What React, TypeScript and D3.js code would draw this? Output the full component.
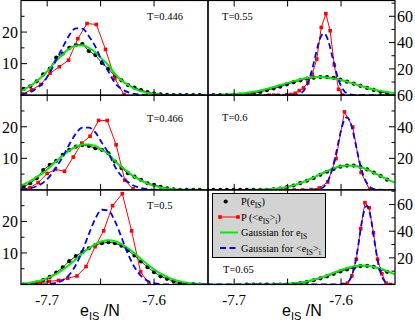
import React, { useRef, useEffect } from "react";
import * as d3 from "d3";

const WIDTH = 415;
const HEIGHT = 322;
const COLS = [
  [21, 208],
  [208, 395],
];
const ROWS = [0.5, 95.2, 189.9, 284.5];
const X_DOMAIN = [-7.7245, -7.5495];
const X_TICKS = [-7.7, -7.65, -7.6];
const X_LABELS = [-7.7, -7.6];

const GREEN = "#00ee00";
const BLUE = "#0000ff";
const RED = "#ff0000";
const SERIF = "'Liberation Serif', 'Times New Roman', serif";
const SANS = "'Liberation Sans', Arial, sans-serif";

// bin centres of P(e_IS), left and right column
const LEFT_GRID = [
  -7.722, -7.7159, -7.7098, -7.7037, -7.6976, -7.6915, -7.6854, -7.6793, -7.6732, -7.6671,
  -7.661, -7.6549, -7.6488, -7.6427, -7.6366, -7.6305, -7.6244, -7.6183, -7.6122, -7.6061,
  -7.6, -7.5939, -7.5878, -7.5817, -7.5756, -7.5695, -7.5634, -7.5573,
];
const RIGHT_GRID = [
  -7.7256, -7.7194, -7.7131, -7.7069, -7.7006, -7.6944, -7.6881, -7.6819, -7.6756, -7.6694,
  -7.6631, -7.6569, -7.6506, -7.6444, -7.6381, -7.6319, -7.6256, -7.6194, -7.6131, -7.6069,
  -7.6006, -7.5944, -7.5881, -7.5819, -7.5756, -7.5694, -7.5631, -7.5569,
];
const LEFT_FIT_X = [-7.7241, ...LEFT_GRID, -7.5488];
const RIGHT_FIT_X = [...RIGHT_GRID, -7.55];

// T = 0.446
const T446_P = [2.0, 2.8, 4.4, 6.6, 8.4, 11.9, 13.2, 15.0, 15.9, 16.2, 14.0, 12.7, 10.2, 8.4, 6.0, 4.7, 3.2, 2.4, 1.6, 1.0, 0.5, 0.3, 0.1, 0, 0, 0, 0, 0];
const T446_FIT = [1.4, 1.7, 2.9, 4.5, 6.2, 8.5, 10.9, 12.9, 14.7, 15.7, 15.8, 15.0, 13.6, 11.5, 9.5, 6.8, 4.7, 3.3, 2.0, 1.3, 0.72, 0.38, 0.18, 0.08, 0.03, 0.01, 0, 0, 0, 0];
const T446_FIT_I = [0.26, 0.36, 1.0, 2.2, 4.0, 7.1, 11.2, 15.2, 19.0, 21.2, 21.1, 18.7, 15.4, 10.9, 7.5, 3.9, 2.0, 0.95, 0.39, 0.16, 0.06, 0.02, 0, 0, 0, 0, 0, 0, 0, 0];
const T446_RED_X = [-7.7232, -7.7146, -7.7059, -7.6973, -7.6886, -7.68, -7.6713, -7.6627, -7.654, -7.6454, -7.6367, -7.6281];
const T446_RED = [0.4, 1.7, 3.4, 7.0, 9.0, 11.1, 17.9, 22.7, 22.4, 14.5, 5.3, 0.2];

// T = 0.466
const T466_P = [1.0, 2.1, 3.7, 6.3, 7.9, 9.2, 11.1, 12.7, 13.7, 14.2, 13.9, 13.2, 12.7, 11.6, 9.0, 6.9, 5.3, 4.2, 3.2, 2.1, 1.6, 1.0, 0.5, 0.2, 0, 0, 0, 0];
const T466_FIT = [1.5, 1.75, 2.8, 4.1, 5.4, 7.2, 9.1, 10.8, 12.5, 13.7, 14.4, 14.4, 13.9, 12.7, 11.4, 9.2, 7.3, 5.7, 4.1, 3.0, 2.0, 1.27, 0.76, 0.44, 0.24, 0.13, 0.06, 0.03, 0.01, 0];
const T466_FIT_I = [0.13, 0.19, 0.53, 1.19, 2.3, 4.3, 7.2, 10.5, 14.4, 17.8, 19.7, 19.7, 18.2, 14.9, 11.7, 7.4, 4.4, 2.5, 1.25, 0.62, 0.25, 0.09, 0.03, 0, 0, 0, 0, 0, 0, 0];
const T466_RED_X = [-7.7241, -7.7161, -7.7084, -7.7, -7.6922, -7.6838, -7.6756, -7.6676, -7.6599, -7.6519, -7.6438, -7.6355, -7.6274, -7.6196];
const T466_RED = [0.1, 0.7, 2.3, 5.2, 6.5, 5.9, 10.4, 14.8, 17.0, 22.0, 22.0, 14.3, 3.1, 0.3];

// T = 0.5
const T500_P = [0, 0.2, 0.6, 1.4, 2.4, 3.8, 5.4, 7.4, 9.0, 10.3, 11.5, 12.5, 13.1, 13.4, 13.1, 12.3, 10.9, 9.2, 7.3, 5.5, 3.9, 2.6, 1.8, 1.0, 0.5, 0.2, 0.1, 0];
const T500_FIT = [0.27, 0.33, 0.58, 0.96, 1.52, 2.32, 3.39, 4.72, 6.29, 8.03, 9.8, 11.4, 12.8, 13.7, 14.0, 13.7, 12.8, 11.5, 9.9, 8.1, 6.4, 4.8, 3.45, 2.4, 1.57, 0.99, 0.59, 0.34, 0.19, 0.08];
const T500_FIT_I = [0, 0, 0, 0, 0.05, 0.17, 0.52, 1.36, 3.1, 6.2, 10.6, 16.0, 20.9, 23.7, 23.4, 20.1, 15.0, 9.7, 5.5, 2.7, 1.15, 0.43, 0.14, 0, 0, 0, 0, 0, 0, 0];
const T500_RED_X = [-7.7152, -7.7066, -7.6979, -7.6894, -7.6807, -7.6721, -7.6636, -7.6552, -7.6472, -7.6388, -7.6297, -7.621, -7.6126, -7.6046];
const T500_RED = [0.2, 0.5, 1.0, 1.3, 2.0, 2.7, 5.7, 12.0, 17.0, 25.0, 28.8, 17.0, 4.0, 0.1];

// T = 0.55
const T550_P = [0, 0, 0, 0, 0.2, 0.5, 0.9, 1.4, 2.5, 3.8, 5.1, 6.5, 8.3, 9.9, 11.3, 12.6, 13.3, 13.8, 13.8, 13.2, 11.9, 10.3, 8.8, 7.1, 5.5, 4.0, 2.6, 1.4];
const T550_FIT = [0.11, 0.19, 0.31, 0.52, 0.82, 1.24, 1.84, 2.62, 3.6, 4.8, 6.2, 7.7, 9.2, 10.7, 12.0, 13.0, 13.6, 13.8, 13.5, 12.7, 11.6, 10.3, 8.7, 7.2, 5.7, 4.4, 3.3, 2.4, 1.6];
const T550_FIT_I_X = [-7.7256, -7.6485, -7.6438, -7.6391, -7.6344, -7.6306, -7.6269, -7.6241, -7.6213, -7.6185, -7.6161, -7.6138, -7.611, -7.6082, -7.6053, -7.6016, -7.5978, -7.5932, -7.5885, -7.5829, -7.55];
const T550_FIT_I = [0, 0.02, 0.17, 0.98, 4.0, 10.0, 20.0, 29.5, 38.7, 45.1, 47, 45.1, 38.7, 29.5, 20.0, 10.0, 4.0, 0.98, 0.17, 0.02, 0];
const T550_RED_X = [-7.6831, -7.6672, -7.663, -7.6588, -7.6508, -7.6469, -7.6428, -7.6391, -7.6351, -7.6311, -7.6269, -7.6227, -7.6185, -7.6142, -7.6102, -7.6063, -7.6023, -7.5983];
const T550_RED = [0, 0, 0, 0, 0.3, 0.5, 1.5, 3.5, 5.5, 9.4, 16, 27.5, 51.5, 62, 49, 23, 4.5, 0];

// T = 0.6
const T600_P = [0, 0, 0, 0, 0, 0, 0, 0, 0, 0, 0.3, 0.9, 1.8, 2.8, 4.3, 5.8, 7.6, 9.6, 11.5, 13.3, 14.7, 15.4, 15.4, 14.6, 13.0, 11.0, 8.9, 6.5];
const T600_FIT = [0, 0, 0, 0, 0, 0, 0, 0.11, 0.21, 0.39, 0.71, 1.19, 1.92, 2.96, 4.31, 6.0, 7.97, 10.0, 12.0, 13.8, 14.96, 15.5, 15.25, 14.3, 12.8, 10.8, 8.8, 6.7, 4.8];
const T600_FIT_I_X = [-7.7256, -7.625, -7.6203, -7.6157, -7.6119, -7.6082, -7.6053, -7.6025, -7.5997, -7.5969, -7.5946, -7.5922, -7.5894, -7.5866, -7.5838, -7.581, -7.5772, -7.5735, -7.5688, -7.5641, -7.55];
const T600_FIT_I = [0, 0.09, 0.53, 2.3, 6.1, 13.3, 21.1, 30.0, 38.5, 44.3, 46, 44.3, 38.5, 30.0, 21.1, 13.3, 6.1, 2.3, 0.53, 0.09, 0];
const T600_RED_X = [-7.6595, -7.6516, -7.6438, -7.636, -7.6281, -7.6203, -7.6125, -7.6047, -7.5968, -7.589, -7.5812, -7.5734];
const T600_RED = [0, 0, 0, 0, 0.2, 1.2, 5.0, 19.8, 49.4, 39.8, 11, 0.3];

// T = 0.65
const T650_P = [null, null, null, null, null, null, 0, 0, 0, 0, 0, 0, 0, 0.3, 1.0, 2.0, 3.2, 4.6, 6.1, 8.0, 9.8, 11.3, 12.4, 13.8, 14.0, 13.3, 11.2, 9.5];
const T650_FIT = [0, 0, 0, 0, 0, 0, 0, 0, 0.03, 0.06, 0.13, 0.26, 0.49, 0.87, 1.46, 2.3, 3.5, 5.0, 6.8, 8.8, 10.7, 12.4, 13.7, 14.3, 14.1, 13.2, 11.8, 10.0, 7.8];
const T650_FIT_I_X = [-7.7256, -7.6016, -7.5969, -7.5922, -7.5894, -7.5866, -7.5838, -7.581, -7.5786, -7.576, -7.5735, -7.5711, -7.5683, -7.5655, -7.5627, -7.5594, -7.5547, -7.55];
const T650_FIT_I = [0, 0.04, 0.43, 3.0, 7.8, 16.6, 29.8, 44.7, 54.6, 59, 54.9, 45.1, 30.3, 17.0, 8.0, 2.6, 0.36, 0.03];
const T650_RED_X = [-7.5983, -7.5941, -7.5899, -7.5857, -7.5816, -7.5776, -7.5736, -7.5697, -7.5658, -7.5618, -7.5578, -7.5538];
const T650_RED = [0, 1.0, 6.5, 19, 42, 61.4, 57.6, 38.8, 19, 8, 1, 0];

const PANELS = [
  { row: 0, col: 0, yMax: 30, title: "T=0.446", tx: 147, ty: 19.5, grid: LEFT_GRID, p: T446_P, fitX: LEFT_FIT_X, fit: T446_FIT, fitIX: LEFT_FIT_X, fitI: T446_FIT_I, redX: T446_RED_X, red: T446_RED },
  { row: 0, col: 1, yMax: 72, title: "T=0.55", tx: 222, ty: 19.5, grid: RIGHT_GRID, p: T550_P, fitX: RIGHT_FIT_X, fit: T550_FIT, fitIX: T550_FIT_I_X, fitI: T550_FIT_I, redX: T550_RED_X, red: T550_RED },
  { row: 1, col: 0, yMax: 30, title: "T=0.466", tx: 147, ty: 121.5, grid: LEFT_GRID, p: T466_P, fitX: LEFT_FIT_X, fit: T466_FIT, fitIX: LEFT_FIT_X, fitI: T466_FIT_I, redX: T466_RED_X, red: T466_RED },
  { row: 1, col: 1, yMax: 60, title: "T=0.6", tx: 222, ty: 121.2, grid: RIGHT_GRID, p: T600_P, fitX: RIGHT_FIT_X, fit: T600_FIT, fitIX: T600_FIT_I_X, fitI: T600_FIT_I, redX: T600_RED_X, red: T600_RED },
  { row: 2, col: 0, yMax: 30, title: "T=0.5", tx: 147, ty: 208.8, grid: LEFT_GRID, p: T500_P, fitX: LEFT_FIT_X, fit: T500_FIT, fitIX: LEFT_FIT_X, fitI: T500_FIT_I, redX: T500_RED_X, red: T500_RED },
  { row: 2, col: 1, yMax: 71, title: "T=0.65", tx: 223, ty: 272.8, grid: RIGHT_GRID, p: T650_P, fitX: RIGHT_FIT_X, fit: T650_FIT, fitIX: T650_FIT_I_X, fitI: T650_FIT_I, redX: T650_RED_X, red: T650_RED },
];

const LEFT_MAJOR = [10, 20];
const LEFT_MINOR = [5, 15, 25];
const RIGHT_MAJOR = [20, 40, 60];
const RIGHT_MINOR = [10, 30, 50, 70];

export default function App() {
  const svgRef = useRef<SVGSVGElement | null>(null);

  useEffect(() => {
    const svg = d3.select(svgRef.current);
    svg.selectAll("*").remove();
    svg.attr("width", WIDTH).attr("height", HEIGHT);
    svg.append("rect").attr("width", WIDTH).attr("height", HEIGHT).attr("fill", "#fff");
    const defs = svg.append("defs");

    PANELS.forEach((pn, i) => {
      const [x0, x1] = COLS[pn.col];
      const y0 = ROWS[pn.row];
      const y1 = ROWS[pn.row + 1];
      const x = d3.scaleLinear().domain(X_DOMAIN).range([x0, x1]);
      const y = d3.scaleLinear().domain([0, pn.yMax]).range([y1, y0]);

      defs.append("clipPath").attr("id", `clip${i}`)
        .append("rect").attr("x", x0).attr("y", y0).attr("width", x1 - x0).attr("height", y1 - y0);
      const g = svg.append("g").attr("clip-path", `url(#clip${i})`);

      const line = d3.line<[number, number]>().x((d) => x(d[0])).y((d) => y(d[1]));
      const smooth = d3.line<[number, number]>().x((d) => x(d[0])).y((d) => y(d[1])).curve(d3.curveMonotoneX);

      // P(e_IS): black dots on a thin line
      const black = pn.grid
        .map((e, k) => [e, pn.p[k]] as [number, number | null])
        .filter((d) => d[1] !== null) as [number, number][];
      g.append("path").datum(black).attr("d", line).attr("fill", "none").attr("stroke", "#000").attr("stroke-width", 0.8);
      g.selectAll(".dot").data(black).join("circle").attr("class", "dot")
        .attr("cx", (d) => x(d[0])).attr("cy", (d) => y(d[1])).attr("r", 2.1).attr("fill", "#000");

      // P(<e_IS>_i): red squares
      const red = pn.redX.map((e, k) => [e, pn.red[k]] as [number, number]);
      g.append("path").datum(red).attr("d", line).attr("fill", "none").attr("stroke", RED).attr("stroke-width", 1);
      g.selectAll(".sq").data(red).join("rect").attr("class", "sq")
        .attr("x", (d) => x(d[0]) - 1.8).attr("y", (d) => y(d[1]) - 1.8)
        .attr("width", 3.6).attr("height", 3.6).attr("fill", RED);

      // gaussian fits
      const fit = pn.fitX.map((e, k) => [e, pn.fit[k]] as [number, number]);
      g.append("path").datum(fit).attr("d", smooth).attr("fill", "none").attr("stroke", GREEN).attr("stroke-width", 2);
      const fitI = pn.fitIX.map((e, k) => [e, pn.fitI[k]] as [number, number]);
      g.append("path").datum(fitI).attr("d", smooth).attr("fill", "none").attr("stroke", BLUE)
        .attr("stroke-width", 1.8).attr("stroke-dasharray", "6,3.5");

      // frame
      svg.append("rect").attr("x", x0).attr("y", y0).attr("width", x1 - x0).attr("height", y1 - y0)
        .attr("fill", "none").attr("stroke", "#000").attr("stroke-width", 1.2);

      // x ticks, inward on top and bottom
      const tk = svg.append("g").attr("stroke", "#000").attr("stroke-width", 1);
      X_TICKS.forEach((v) => {
        tk.append("line").attr("x1", x(v)).attr("x2", x(v)).attr("y1", y0).attr("y2", y0 + 6);
        tk.append("line").attr("x1", x(v)).attr("x2", x(v)).attr("y1", y1).attr("y2", y1 - 6);
      });

      // y ticks
      const left = pn.col === 0;
      const ax = left ? x0 : x1;
      const dir = left ? 1 : -1;
      const major = left ? LEFT_MAJOR : RIGHT_MAJOR;
      const minor = left ? LEFT_MINOR : RIGHT_MINOR;
      major.filter((v) => v <= pn.yMax).forEach((v) => {
        tk.append("line").attr("x1", ax).attr("x2", ax + dir * 6).attr("y1", y(v)).attr("y2", y(v));
        svg.append("text")
          .attr("x", left ? 18 : 397).attr("y", y(v)).attr("dy", "0.36em")
          .attr("text-anchor", left ? "end" : "start")
          .attr("font-family", SERIF).attr("font-size", 16).attr("fill", "#000")
          .text(v);
      });
      minor.filter((v) => v < pn.yMax).forEach((v) => {
        tk.append("line").attr("x1", ax).attr("x2", ax + dir * 3.5).attr("y1", y(v)).attr("y2", y(v));
      });

      // temperature label
      svg.append("text").attr("x", pn.tx).attr("y", pn.ty)
        .attr("font-family", SERIF).attr("font-size", 10.5).attr("fill", "#000").text(pn.title);

      // bottom axis labels
      if (pn.row === 2) {
        X_LABELS.forEach((v) => {
          svg.append("text").attr("x", x(v)).attr("y", 305).attr("text-anchor", "middle")
            .attr("font-family", SERIF).attr("font-size", 15).attr("fill", "#000").text(v);
        });
        const t = svg.append("text").attr("x", left ? 80 : 282).attr("y", 316)
          .attr("font-family", SANS).attr("font-size", 16).attr("fill", "#000");
        t.append("tspan").text("e");
        t.append("tspan").attr("font-size", 11).attr("dy", 4).text("IS");
        t.append("tspan").attr("dy", -4).text(" /N");
      }
    });

    // legend
    const lg = svg.append("g");
    lg.append("rect").attr("x", 212.5).attr("y", 193.5).attr("width", 113).attr("height", 64)
      .attr("fill", "#d3d3d3").attr("stroke", "#000").attr("stroke-width", 1);
    const rows = [201.5, 217, 232.5, 248];
    lg.append("circle").attr("cx", 225.7).attr("cy", rows[0]).attr("r", 2.1).attr("fill", "#000");
    lg.append("line").attr("x1", 220).attr("x2", 238).attr("y1", rows[1]).attr("y2", rows[1]).attr("stroke", RED);
    [220, 238].forEach((sx) => {
      lg.append("rect").attr("x", sx - 1.8).attr("y", rows[1] - 1.8).attr("width", 3.6).attr("height", 3.6).attr("fill", RED);
    });
    lg.append("line").attr("x1", 220).attr("x2", 238).attr("y1", rows[2]).attr("y2", rows[2])
      .attr("stroke", GREEN).attr("stroke-width", 2);
    lg.append("line").attr("x1", 220).attr("x2", 238).attr("y1", rows[3]).attr("y2", rows[3])
      .attr("stroke", BLUE).attr("stroke-width", 1.8).attr("stroke-dasharray", "6,3.5");

    const entries = [
      [["P(e", 0], ["IS", 1], [")", 0]],
      [["P (<e", 0], ["IS", 1], [">", 0], ["i", 1], [")", 0]],
      [["Gaussian for e", 0], ["IS", 1]],
      [["Gaussian for <e", 0], ["IS", 1], [">", 0], ["i", 1]],
    ];
    entries.forEach((parts, r) => {
      const t = lg.append("text").attr("x", 241).attr("y", rows[r] + 3.5)
        .attr("font-family", SERIF).attr("font-size", 10.3).attr("fill", "#000");
      let sub = 0;
      parts.forEach(([s, isSub]) => {
        const dy = isSub === sub ? 0 : isSub ? 3 : -3;
        sub = isSub as number;
        const ts = t.append("tspan").text(s as string);
        if (dy) ts.attr("dy", dy);
        if (isSub) ts.attr("font-size", 7.5);
      });
    });
  }, []);

  return (
    <div style={{ position: "absolute", left: 0, top: 0 }}>
      <svg ref={svgRef} />
    </div>
  );
}
